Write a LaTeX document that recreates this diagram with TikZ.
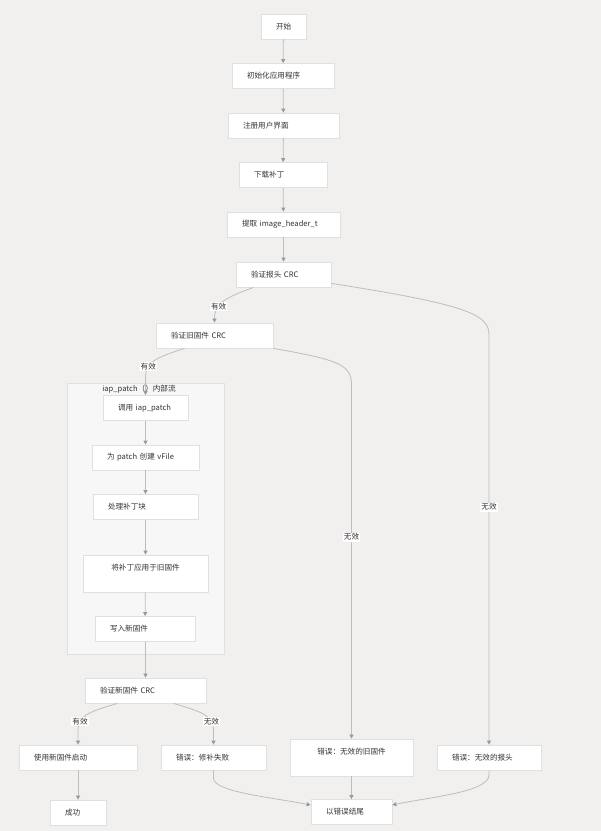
\documentclass[tikz,border=0pt]{standalone}
\usepackage{fontspec}
\newfontfamily\cjk{Noto Sans CJK SC}
\usetikzlibrary{arrows.meta,calc}
\definecolor{Canvas}{HTML}{F1F0EF}
\definecolor{Panel}{HTML}{F7F7F7}
\definecolor{Frame}{HTML}{E0E0E0}
\definecolor{Wire}{HTML}{BDBDBD}
\definecolor{Tip}{HTML}{999999}
\definecolor{Ink}{HTML}{333333}
\tikzset{
  flowfont/.style={font=\cjk\fontsize{7.6}{9}\selectfont,text=Ink},
  box/.style={flowfont,draw=Frame,line width=0.8pt,fill=white,inner xsep=15pt,inner ysep=0pt,minimum height=25pt,text width=#1,align=left},
  tallbox/.style={flowfont,draw=Frame,line width=0.8pt,fill=white,inner sep=0pt,minimum width=#1,text height=15.2pt,text depth=21.8pt},
  wire/.style={draw=Wire,line width=0.8pt,-{Triangle[length=4pt,width=4pt,color=Tip]}},
  lbl/.style={flowfont,fill=white,inner sep=1pt}
}
\begin{document}
\begin{tikzpicture}[x=1pt,y=-1pt]
\fill[Canvas] (0,0) rectangle (601,831);
\useasboundingbox (0,0) rectangle (601,831);
\draw[Frame,fill=Panel,line width=0.8pt] (67,383) rectangle (224,654);
\node[flowfont,inner sep=0pt] (flowtitle) at (139,389) {iap\_patch（）内部流};
\node[box=15pt] (start) at (283.5,26.5) {开始};
\node[box=72pt] (init) at (283,76) {初始化应用程序};
\node[box=81pt] (register) at (283.5,125.5) {注册用户界面};
\node[box=58pt] (download) at (283,175) {下载补丁};
\node[box=83pt] (extract) at (283.5,224.5) {提取 image\_header\_t};
\node[box=65pt] (hdrcrc) at (283.5,274.5) {验证报头 CRC};
\node[box=87pt] (oldcrc) at (214.5,335.5) {验证旧固件 CRC};
\node[box=55pt] (iapcall) at (145.5,408) {调用 iap\_patch};
\node[box=77pt] (vfile) at (145.5,457.5) {为 patch 创建 vFile};
\node[box=75pt] (blocks) at (145.5,507) {处理补丁块};
\node[tallbox=125pt] (apply) at (145.5,573.5) {将补丁应用于旧固件};
\node[box=70pt] (write) at (145,629) {写入新固件};
\node[box=91pt] (newcrc) at (145.5,690.5) {验证新固件 CRC};
\node[box=88pt] (boot) at (78,757.5) {使用新固件启动};
\node[box=75pt] (errpatch) at (213.5,757.5) {错误：修补失败};
\node[box=26pt] (success) at (78,812.5) {成功};
\node[tallbox=123pt] (errold) at (351.5,757.5) {错误：无效的旧固件};
\node[box=74pt] (errhdr) at (489,757.5) {错误：无效的报头};
\node[box=51pt] (failend) at (351.5,812) {以错误结尾};
\draw[wire] (start) -- (init);
\draw[wire] (init) -- (register);
\draw[wire] (register) -- (download);
\draw[wire] (download) -- (extract);
\draw[wire] (extract) -- (hdrcrc);
\draw[wire] ([xshift=-30pt]hdrcrc.south) .. controls (225,298) and (214.5,303) .. node[lbl,pos=0.65] {有效} (oldcrc.north);
\draw[wire] ([yshift=4pt]hdrcrc.south east) .. controls (470,305) and (489,315) .. (489,335) -- node[lbl,pos=0.42] {无效} (errhdr.north);
\draw[wire] (oldcrc.south east) .. controls (340,360) and (351.5,365) .. (351.5,385) -- node[lbl,pos=0.43] {无效} (errold.north);
\draw[wire] ([xshift=-30pt]oldcrc.south) .. controls (155,358) and (145.5,362) .. node[lbl,pos=0.7] {有效} (145.5,378) -- (iapcall.north);
\draw[wire] (iapcall) -- (vfile);
\draw[wire] (vfile) -- (blocks);
\draw[wire] (blocks) -- (apply);
\draw[wire] (apply) -- (write);
\draw[wire] (write.south) -- (write.south -| newcrc.north) -- (newcrc.north);
\draw[wire] ([xshift=-28pt]newcrc.south) .. controls (88,712) and (78,716) .. node[lbl,pos=0.75] {有效} (78,730) -- (boot.north);
\draw[wire] ([xshift=28pt]newcrc.south) .. controls (203,712) and (213.5,716) .. node[lbl,pos=0.75] {无效} (213.5,730) -- (errpatch.north);
\draw[wire] (boot) -- (success);
\draw[wire] (errold) -- (failend);
\draw[wire] (errpatch.south) -- (213.5,778) .. controls (213.5,792) and (270,797) .. ([yshift=7pt]failend.west);
\draw[wire] (errhdr.south) -- (489,775) .. controls (489,792) and (430,797) .. ([yshift=7pt]failend.east);
\end{tikzpicture}
\end{document}
